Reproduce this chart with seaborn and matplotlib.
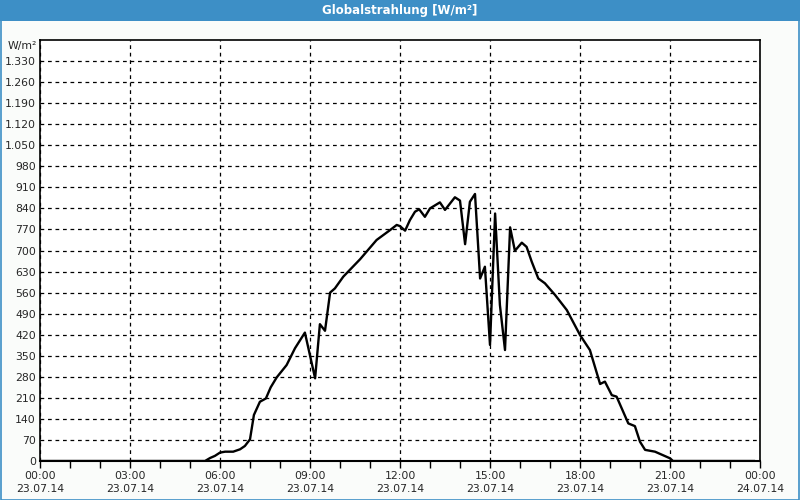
import matplotlib
matplotlib.use("Agg")
import matplotlib.pyplot as plt
import matplotlib.patches as mpatches
import seaborn as sns
import pandas as pd

# ---- data (hours since 23.07.14 00:00, W/m²) ----
hours = [0.0, 5.5, 5.67, 5.83, 6.0, 6.17, 6.44, 6.67, 6.83, 7.0, 7.13, 7.33, 7.53,
         7.69, 7.89, 8.22, 8.5, 8.83, 9.17, 9.33, 9.5, 9.67, 9.83, 10.11, 10.67,
         11.22, 11.67, 11.89, 12.0, 12.17, 12.33, 12.5, 12.64, 12.83, 13.0, 13.33,
         13.5, 13.83, 14.0, 14.17, 14.33, 14.5, 14.67, 14.83, 15.0, 15.17, 15.33,
         15.5, 15.67, 15.83, 16.06, 16.22, 16.39, 16.61, 16.83, 17.17, 17.56, 18.0,
         18.33, 18.67, 18.83, 19.06, 19.22, 19.61, 19.83, 20.0, 20.17, 20.5, 21.0,
         21.1, 23.83]
values = [0, 0, 10, 17, 28, 31, 31, 39, 50, 72, 153, 197, 208,
          245, 278, 319, 375, 427, 275, 455, 433, 560, 574, 613, 671,
          735, 768, 785, 781, 766, 801, 829, 837, 812, 840, 860,
          835, 877, 866, 721, 862, 888, 607, 646, 386, 823, 519,
          369, 777, 699, 726, 712, 663, 607, 591, 552, 502, 419,
          369, 256, 264, 219, 214, 125, 116, 64, 37, 31, 9,
          0, 0]
x_ticks = [0, 3, 6, 9, 12, 15, 18, 21, 24]
x_labels = ["00:00\n23.07.14", "03:00\n23.07.14", "06:00\n23.07.14", "09:00\n23.07.14",
            "12:00\n23.07.14", "15:00\n23.07.14", "18:00\n23.07.14", "21:00\n23.07.14",
            "00:00\n24.07.14"]
y_ticks = list(range(0, 1331, 70))
y_labels = [f"{v:,}".replace(",", ".") for v in y_ticks]
title = "Globalstrahlung [W/m²]"
unit = "W/m²"

df = pd.DataFrame({"hour": hours, "value": values})

sns.set_style("white")
plt.rcParams["font.family"] = ["DejaVu Sans"]

bg = "#fafcfa"
blue = "#3d8fc6"
fig = plt.figure(figsize=(8, 5), dpi=100, facecolor=bg)
ax = fig.add_axes([40 / 800, 39 / 500, 720 / 800, 421 / 500])
ax.set_facecolor("white")

sns.lineplot(data=df, x="hour", y="value", ax=ax, color="black", linewidth=1.7)

ax.set_xlim(0, 24)
ax.set_ylim(0, 1400)
ax.set_xticks(x_ticks)
ax.set_xticklabels(x_labels, fontsize=7.8, linespacing=1.4)
ax.set_xticks(range(0, 25), minor=True)
ax.set_yticks(y_ticks)
ax.set_yticklabels(y_labels, fontsize=7.8)
ax.set_xlabel("")
ax.set_ylabel("")

ax.tick_params(axis="x", which="both", direction="out", length=5, width=1,
               color="black", pad=2, bottom=True)
ax.tick_params(axis="y", length=0, pad=3)

ax.grid(True, axis="both", which="major", color="black", linestyle=(0, (3, 3)), linewidth=0.9)
for s in ax.spines.values():
    s.set_visible(True)
    s.set_color("black")
    s.set_linewidth(1.2)
ax.spines["bottom"].set_linewidth(1.5)

ax.text(-3 / 720, 1 - 6 / 421, unit, transform=ax.transAxes, ha="right", va="center", fontsize=7.8)

# title bar and border
fig.patches.append(mpatches.Rectangle((0, 1 - 20.5 / 500), 1, 20.5 / 500, transform=fig.transFigure,
                                      facecolor=blue, edgecolor="none", zorder=0))
fig.patches.append(mpatches.Rectangle((0.5 / 800, 0.5 / 500), 1 - 1.5 / 800, 1 - 1.5 / 500,
                                      transform=fig.transFigure, facecolor="none",
                                      edgecolor=blue, linewidth=1.2, zorder=0))
fig.text(0.5, 1 - 10.5 / 500, title, ha="center", va="center", color="white",
         fontsize=8.5, fontweight="bold")

fig.savefig("out.png", dpi=100, facecolor=bg)
